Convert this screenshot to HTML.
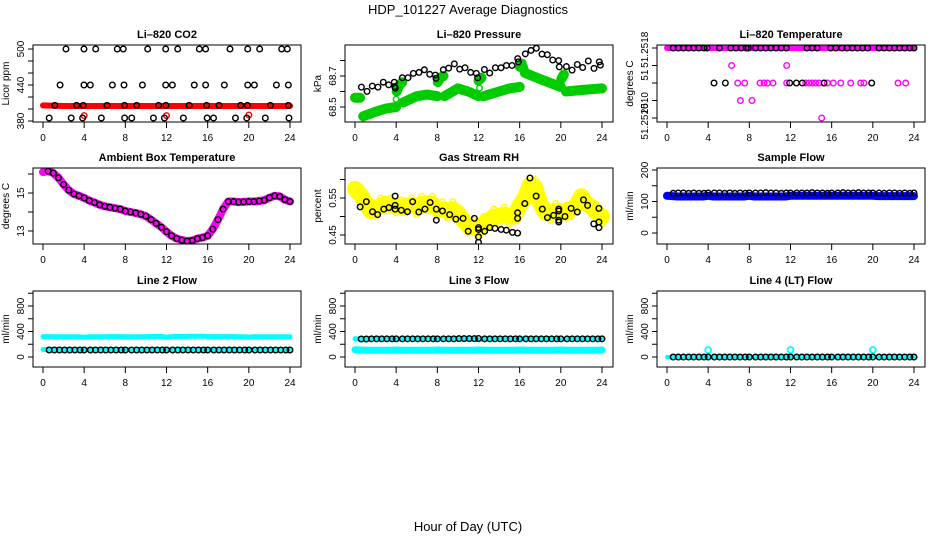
<!DOCTYPE html>
<html><head><meta charset="utf-8">
<style>
html,body{margin:0;padding:0;background:#fff;}
svg{display:block;font-family:"Liberation Sans",Arial,sans-serif;}
</style></head>
<body>
<svg id="chart" width="936" height="540" viewBox="0 0 936 540" xmlns="http://www.w3.org/2000/svg">
<rect width="936" height="540" fill="#fff"/>
<text x="468" y="14" text-anchor="middle" font-size="13">HDP_101227  Average Diagnostics</text>
<text x="468" y="531" text-anchor="middle" font-size="13">Hour of Day (UTC)</text>
</svg>
<script>
// ---- shared data ----
const xTicks = [0,4,8,12,16,20,24];
const blackHours = [0.6,1.1,1.6,2.1,2.6,3.1,3.6,4.0,4.6,5.1,5.6,6.1,6.6,7.1,7.6,8.0,8.6,9.1,9.6,10.1,10.6,11.1,11.6,12.0,12.6,13.1,13.6,14.1,14.6,15.1,15.6,16.0,16.6,17.1,17.6,18.1,18.6,19.1,19.6,20.0,20.6,21.1,21.6,22.1,22.6,23.1,23.6,24.0];
const denseHours = [0,0.5,1,1.5,2,2.5,3,3.5,4,4.5,5,5.5,6,6.5,7,7.5,8,8.5,9,9.5,10,10.5,11,11.5,12,12.5,13,13.5,14,14.5,15,15.5,16,16.5,17,17.5,18,18.5,19,19.5,20,20.5,21,21.5,22,22.5,23,23.5,24];

// CO2
const co2BlackHours = [2.23,3.98,5.12,7.22,7.8,10.17,11.92,13.09,15.19,15.8,18.17,19.89,21.05,23.19,23.74, 1.66,3.98,4.6,6.74,7.87,9.66,11.92,12.57,14.7,15.8,17.62,19.89,20.54,22.68,23.84, 1.15,3.27,3.91,6.22,7.93,9.1,11.23,11.95,14.2,15.9,17.1,19.2,19.86,22.1,23.84, 0.6,2.74,3.85,5.67,7.93,8.62,10.73,11.8,13.64,15.95,16.57,18.7,19.8,21.6,23.9];
const co2BlackValues = [500,500,500,500,500,500,500,500,500,500,500,500,500,500,500, 440,440,440,440,440,440,440,440,440,440,440,440,440,440,440, 406,406,406,406,406,406,406,406,406,406,406,406,406,406,406, 385,385,385,385,385,385,385,385,385,385,385,385,385,385,385];
const co2RedHours = [0,2,4,6,8,10,12,14,16,18,20,22,24];
const co2RedValues = [406,405,405,405,405,405,405,405,405,405,405,405,405];
const co2RedSpikeHours = [4.0,12.0,20.0];
const co2RedSpikeValues = [389,389,390];

// Pressure
const presBlackHours = [0.62,1.17,1.68,2.23,2.75,3.27,3.82,3.85,3.91,4.6,5.15,5.67,6.22,6.74,7.26,7.81,7.87,8.58,9.1,9.65,10.17,10.69,11.24,11.79,11.92,12.57,13.09,13.64,14.19,14.71,15.26,15.81,15.87,16.55,17.1,17.62,18.17,18.69,19.21,19.79,19.85,20.54,21.09,21.6,22.12,22.67,23.22,23.74,23.84];
const presBlackValues = [68.628,68.601,68.635,68.628,68.66,68.643,68.66,68.632,68.622,68.689,68.689,68.717,68.723,68.74,68.711,68.706,68.685,68.74,68.751,68.778,68.744,68.753,68.723,68.717,68.689,68.742,68.719,68.753,68.753,68.768,68.768,68.812,68.791,68.843,68.865,68.879,68.841,68.837,68.803,68.799,68.759,68.761,68.738,68.774,68.755,68.797,68.749,68.791,68.77];
const presGreenHours = [0,0.5,null,0.8,2,3,4,null,4.05,4.3,4.6,null,4.7,6,7,8,null,8.05,8.3,8.6,null,8.7,10,11,12,null,12.0,12.3,null,12.5,14,15,16,null,16.0,16.2,16.4,null,16.5,18,20,null,20.05,20.3,null,20.5,22,24];
const presGreenValues = [68.56,68.56,null,68.44,68.47,68.49,68.5,null,68.6,68.64,68.66,null,68.53,68.57,68.58,68.57,null,68.66,68.69,68.7,null,68.57,68.62,68.6,68.57,null,68.67,68.69,null,68.57,68.6,68.62,68.63,null,68.76,68.78,68.74,null,68.72,68.68,68.63,null,68.68,68.71,null,68.6,68.61,68.62];
const presGreenSingleHours = [4.0,8.0,12.1];
const presGreenSingleValues = [68.55,68.655,68.622];

// Li-820 temperature
const tempMagBandHours = [0,6,12,18,24];
const tempMagBandValues = [51.2518,51.2518,51.2518,51.2518,51.2518];
const tempMagHours = [6.28,11.63,7.13,8.26,15.03,6.87,7.55,9.04,9.43,9.75,10.3,11.63,13.47,13.8,14.12,14.45,14.77,15.26,15.58,16.16,16.88,17.85,18.82,19.14,22.45,23.19];
const tempMagValues = [51.2516,51.2516,51.2512,51.2512,51.2510,51.2514,51.2514,51.2514,51.2514,51.2514,51.2514,51.2514,51.2514,51.2514,51.2514,51.2514,51.2514,51.2514,51.2514,51.2514,51.2514,51.2514,51.2514,51.2514,51.2514,51.2514];
const tempBlackHours = [0.6,1.1,1.6,2.1,2.6,3.1,3.6,3.9,5.1,6.2,6.7,7.2,7.7,7.9,8.6,9.1,9.6,10.1,10.6,11.1,11.6,13.6,14.1,14.6,15.9,16.4,17.0,17.5,18.0,18.5,19.0,19.5,20.6,21.1,21.6,22.1,22.6,23.1,23.6,24.0, 4.57,5.67,11.92,12.57,13.15,15.26,19.89];
const tempBlackValues = [51.2518,51.2518,51.2518,51.2518,51.2518,51.2518,51.2518,51.2518,51.2518,51.2518,51.2518,51.2518,51.2518,51.2518,51.2518,51.2518,51.2518,51.2518,51.2518,51.2518,51.2518,51.2518,51.2518,51.2518,51.2518,51.2518,51.2518,51.2518,51.2518,51.2518,51.2518,51.2518,51.2518,51.2518,51.2518,51.2518,51.2518,51.2518,51.2518,51.2518, 51.2514,51.2514,51.2514,51.2514,51.2514,51.2514,51.2514];

// Ambient
const ambValues = [16.1,16.15,16.05,15.8,15.45,15.15,14.95,14.85,14.74,14.6,14.5,14.38,14.3,14.25,14.2,14.15,14.05,14.0,13.95,13.88,13.78,13.6,13.4,13.2,12.96,12.75,12.6,12.52,12.47,12.5,12.6,12.65,12.75,13.1,13.6,14.15,14.55,14.55,14.52,14.53,14.55,14.55,14.58,14.62,14.75,14.85,14.82,14.65,14.55];

// RH
const rhYellow = [0.575,0.56,0.54,0.515,0.52,0.53,0.535,0.53,0.53,0.525,0.53,0.53,0.525,0.535,0.535,0.535,0.52,0.52,0.515,0.52,0.51,0.49,0.475,0.47,0.465,0.48,0.49,0.5,0.5,0.505,0.5,0.5,0.53,0.55,0.585,0.58,0.535,0.51,0.51,0.515,0.515,0.51,0.52,0.53,0.555,0.535,0.525,0.51,0.5];
const rhBlackHours = [0.5,1.1,1.7,2.2,2.8,3.3,3.9,3.9,3.9,4.5,5.1,5.6,6.2,6.8,7.3,7.9,7.9,8.5,9.2,9.8,10.5,11.0,11.6,12.0,12.0,12.0,12.0,12.6,13.1,13.6,14.2,14.7,15.3,15.8,15.8,15.8,16.5,17.0,17.6,18.2,18.7,19.3,19.8,19.8,19.8,19.8,20.4,21.0,21.6,22.2,22.6,23.2,23.7,23.7,23.7];
const rhBlackValues = [0.526,0.54,0.513,0.505,0.52,0.524,0.52,0.53,0.555,0.517,0.513,0.54,0.512,0.52,0.538,0.52,0.49,0.515,0.505,0.493,0.495,0.46,0.495,0.47,0.445,0.43,0.465,0.46,0.47,0.468,0.465,0.463,0.457,0.455,0.51,0.495,0.535,0.604,0.555,0.52,0.497,0.503,0.515,0.52,0.485,0.49,0.5,0.522,0.512,0.545,0.53,0.48,0.522,0.485,0.47];

// Sample flow
const sfBlue = [118,117,116,116,116,116,116,116,118,116,116,116,116,116,116,116,118,116,116,116,116,116,116,116,118,118,118,118,118,118,118,118,118,118,118,118,118,118,118,118,118,117,117,117,117,117,117,117,117];
const sfBlack = [126,127,127,126,127,126,126,127,127,127,126,127,126,127,126,127,127,127,128,127,127,126,127,127,127,127,127,128,127,127,126,127,127,128,127,127,128,127,127,127,127,126,127,127,126,127,126,127];

// Line 2 flow
const l2CyanTop = [320,320,318,318,318,318,318,318,310,318,318,318,318,320,320,320,318,318,318,318,320,322,322,322,312,320,322,322,322,324,324,324,322,320,320,320,320,320,318,318,312,318,318,318,318,318,318,318,318];
const l2CyanLow = [118,118,118,118,118,118,118,118,118,118,118,118,118,118,118,118,118,118,118,118,118,118,118,118,118,118,118,118,118,118,118,118,118,118,118,118,118,118,118,118,118,118,118,118,118,118,118,118,118];
const l2Black = [110,110,110,110,110,110,110,110,110,110,110,110,110,110,110,110,110,110,110,110,110,110,110,110,110,110,110,110,110,110,110,110,110,110,110,110,110,110,110,110,110,110,110,110,110,110,110,110];

// Line 3 flow
const l3CyanTop = [285,285,285,285,285,285,285,285,270,285,285,285,285,285,285,285,285,285,285,290,290,290,290,290,270,285,285,285,285,285,285,285,285,285,285,285,285,285,285,285,270,285,285,285,285,285,285,285,285];
const l3CyanLow = [115,110,105,105,105,105,105,105,110,105,105,105,105,105,105,105,110,105,105,105,105,105,105,105,110,105,105,105,105,105,105,105,110,105,105,105,105,105,105,105,110,105,105,105,105,105,105,105,110];
const l3Black = [282,282,285,285,285,285,285,285,285,285,285,285,285,285,285,285,285,285,285,288,288,288,288,290,285,285,285,285,285,285,285,285,285,285,285,285,285,285,285,285,285,285,285,285,285,285,285,285];

// Line 4 flow
const l4Cyan = [0,0,0,0,0,0,0,0,0,0,0,0,0,0,0,0,0,0,0,0,0,0,0,0,0,0,0,0,0,0,0,0,0,0,0,0,0,0,0,0,0,0,0,0,0,0,0,0,0];
const l4CyanSpikeHours = [4.0,12.0,20.0];
const l4CyanSpikeValues = [110,110,110];
const l4Black = [0,0,0,0,0,0,0,0,0,0,0,0,0,0,0,0,0,0,0,0,0,0,0,0,0,0,0,0,0,0,0,0,0,0,0,0,0,0,0,0,0,0,0,0,0,0,0,0];

// ---- drawing ----
const NS = "http://www.w3.org/2000/svg";
const svg = document.getElementById('chart');
function mk(tag, attrs, parent){
  const e = document.createElementNS(NS, tag);
  for (const k in attrs) e.setAttribute(k, attrs[k]);
  (parent||svg).appendChild(e);
  return e;
}
const colL = [33,345,657], rowT = [45,168,291], rowB = [122,244,367];

function makePanel(name, col, row, title, ylab, vTop, yTop, vRef, yRef, yticks, ylabels){
  const L = colL[col], R = L+268, T = rowT[row], B = rowB[row];
  const g = mk('g', {});
  
  
  const sx = h => L + 10 + h * 247 / 24;
  const sy = v => yTop + (vTop - v) * (yRef - yTop) / (vTop - vRef);
  const t = mk('text', {x:(L+R)/2, y:T-7, 'text-anchor':'middle', 'font-size':11, 'font-weight':'bold'}, g);
  t.textContent = title;
  
  
  const yl = mk('text', {x:0, y:0, 'text-anchor':'middle', 'font-size':10, transform:`translate(${L-24},${(T+B)/2}) rotate(-90)`}, g);
  yl.textContent = ylab;
  
  
  const xa = mk('g', {}, g);
  
  
  xTicks.forEach(h => {
    mk('line', {x1:sx(h), x2:sx(h), y1:B, y2:B+6, stroke:'#000', 'stroke-width':1}, xa);
    const tl = mk('text', {x:sx(h), y:B+19, 'text-anchor':'middle', 'font-size':10}, xa);
    tl.textContent = h;
  });
  const ya = mk('g', {}, g);
  
  
  yticks.forEach(v => mk('line', {x1:L-5, x2:L, y1:sy(v), y2:sy(v), stroke:'#000', 'stroke-width':1}, ya));
  ylabels.forEach(([v, txt]) => {
    const tl = mk('text', {x:0, y:0, 'text-anchor':'middle', 'font-size':10, transform:`translate(${L-9},${sy(v)}) rotate(-90)`}, ya);
    tl.textContent = txt;
  });
  const plot = mk('g', {}, g);
  const clip = 'clip-' + name;
  const cp = mk('clipPath', {id:clip}, g);
  mk('rect', {x:L, y:T, width:R-L, height:B-T}, cp);
  plot.setAttribute('clip-path', `url(#${clip})`);
  mk('rect', {x:L, y:T, width:R-L, height:B-T, fill:'none', stroke:'#000', 'stroke-width':1}, g);
  return {sx, sy, plot};
}
function band(p, name, hours, vals, color, w){
  let d = '', pen = false;
  hours.forEach((h, i) => {
    if (h === null || vals[i] === null) { pen = false; return; }
    d += (pen ? 'L' : 'M') + p.sx(h).toFixed(1) + ' ' + p.sy(vals[i]).toFixed(1) + ' ';
    pen = true;
  });
  const e = mk('path', {d, fill:'none', stroke:color, 'stroke-width':w, 'stroke-linecap':'round', 'stroke-linejoin':'round'}, p.plot);
  
  
}
function pts(p, name, hours, vals, color, r, sw){
  const g = mk('g', {}, p.plot);
  
  
  hours.forEach((h, i) => {
    if (h === null || vals[i] === null || vals[i] === undefined) return;
    mk('circle', {cx:p.sx(h), cy:p.sy(vals[i]), r:r||2.8, fill:'none', stroke:color, 'stroke-width':sw||1.4}, g);
  });
}

let p = makePanel('co2', 0, 0, 'Li\u2013820 CO2', 'Licor ppm', 500, 49, 380, 121, [500,480,460,440,420,400,380], [[500,'500'],[440,'440'],[380,'380']]);
band(p, 'co2-red-band', co2RedHours, co2RedValues, '#ff0000', 6);
pts(p, 'co2-red-points', co2RedSpikeHours, co2RedSpikeValues, '#ff0000');
pts(p, 'co2-black-points', co2BlackHours, co2BlackValues, '#000');

p = makePanel('pressure', 1, 0, 'Li\u2013820 Pressure', 'kPa', 68.7, 76, 68.5, 107, [68.8,68.7,68.6,68.5], [[68.7,'68.7'],[68.5,'68.5']]);
band(p, 'pressure-green-band', presGreenHours, presGreenValues, '#00cc00', 10);
pts(p, 'pressure-green-points', presGreenSingleHours, presGreenSingleValues, '#00cc00');
pts(p, 'pressure-black-points', presBlackHours, presBlackValues, '#000');

p = makePanel('li820-temp', 2, 0, 'Li\u2013820 Temperature', 'degrees C', 51.2518, 48, 51.2510, 118, [51.2518,51.2516,51.2514,51.2512,51.2510], [[51.25178,'51.2518'],[51.25149,'51'],[51.25117,'2510'],[51.25096,'51.2510']]);
band(p, 'temp-magenta-band', tempMagBandHours, tempMagBandValues, '#ff00ff', 6);
pts(p, 'temp-magenta-points', tempMagHours, tempMagValues, '#ff00ff');
pts(p, 'temp-black-points', tempBlackHours, tempBlackValues, '#000');

p = makePanel('ambient', 0, 1, 'Ambient Box Temperature', 'degrees C', 15, 193, 13, 231, [16,15,14,13], [[15,'15'],[13,'13']]);
band(p, 'ambient-magenta-band', denseHours, ambValues, '#ff00ff', 8);
pts(p, 'ambient-black-points', denseHours.slice(1), ambValues.slice(1), '#000');

p = makePanel('rh', 1, 1, 'Gas Stream RH', 'percent', 0.55, 198, 0.45, 235, [0.6,0.55,0.5,0.45], [[0.55,'0.55'],[0.45,'0.45']]);
band(p, 'rh-yellow-band', denseHours, rhYellow, '#ffff00', 16);
pts(p, 'rh-yellow-points', denseHours, rhYellow.map((v,i)=> i%2 ? v+0.02 : v-0.02), '#ffff00');
pts(p, 'rh-black-points', rhBlackHours, rhBlackValues, '#000');

p = makePanel('sample-flow', 2, 1, 'Sample Flow', 'ml/min', 200, 170, 0, 233, [200,150,100,50,0], [[200,'200'],[100,'100'],[0,'0']]);
band(p, 'sample-flow-blue-band', denseHours, sfBlue, '#0000ff', 8);
pts(p, 'sample-flow-black-points', blackHours, sfBlack, '#000');

p = makePanel('line2', 0, 2, 'Line 2 Flow', 'ml/min', 800, 306, 0, 357, [1000,800,600,400,200,0], [[800,'800'],[400,'400'],[0,'0']]);
band(p, 'line2-cyan-top-band', denseHours, l2CyanTop, '#00ffff', 5);
band(p, 'line2-cyan-low-band', denseHours, l2CyanLow, '#00ffff', 5);
pts(p, 'line2-black-points', blackHours, l2Black, '#000');

p = makePanel('line3', 1, 2, 'Line 3 Flow', 'ml/min', 800, 306, 0, 357, [1000,800,600,400,200,0], [[800,'800'],[400,'400'],[0,'0']]);
band(p, 'line3-cyan-top-band', denseHours, l3CyanTop, '#00ffff', 5);
band(p, 'line3-cyan-low-band', denseHours, l3CyanLow, '#00ffff', 7);
pts(p, 'line3-black-points', blackHours, l3Black, '#000');

p = makePanel('line4', 2, 2, 'Line 4 (LT) Flow', 'ml/min', 800, 306, 0, 357, [1000,800,600,400,200,0], [[800,'800'],[400,'400'],[0,'0']]);
band(p, 'line4-cyan-band', denseHours, l4Cyan, '#00ffff', 4);
pts(p, 'line4-cyan-spikes', l4CyanSpikeHours, l4CyanSpikeValues, '#00ffff', 3, 1.8);
pts(p, 'line4-black-points', blackHours, l4Black, '#000');
</script>
</body></html>
